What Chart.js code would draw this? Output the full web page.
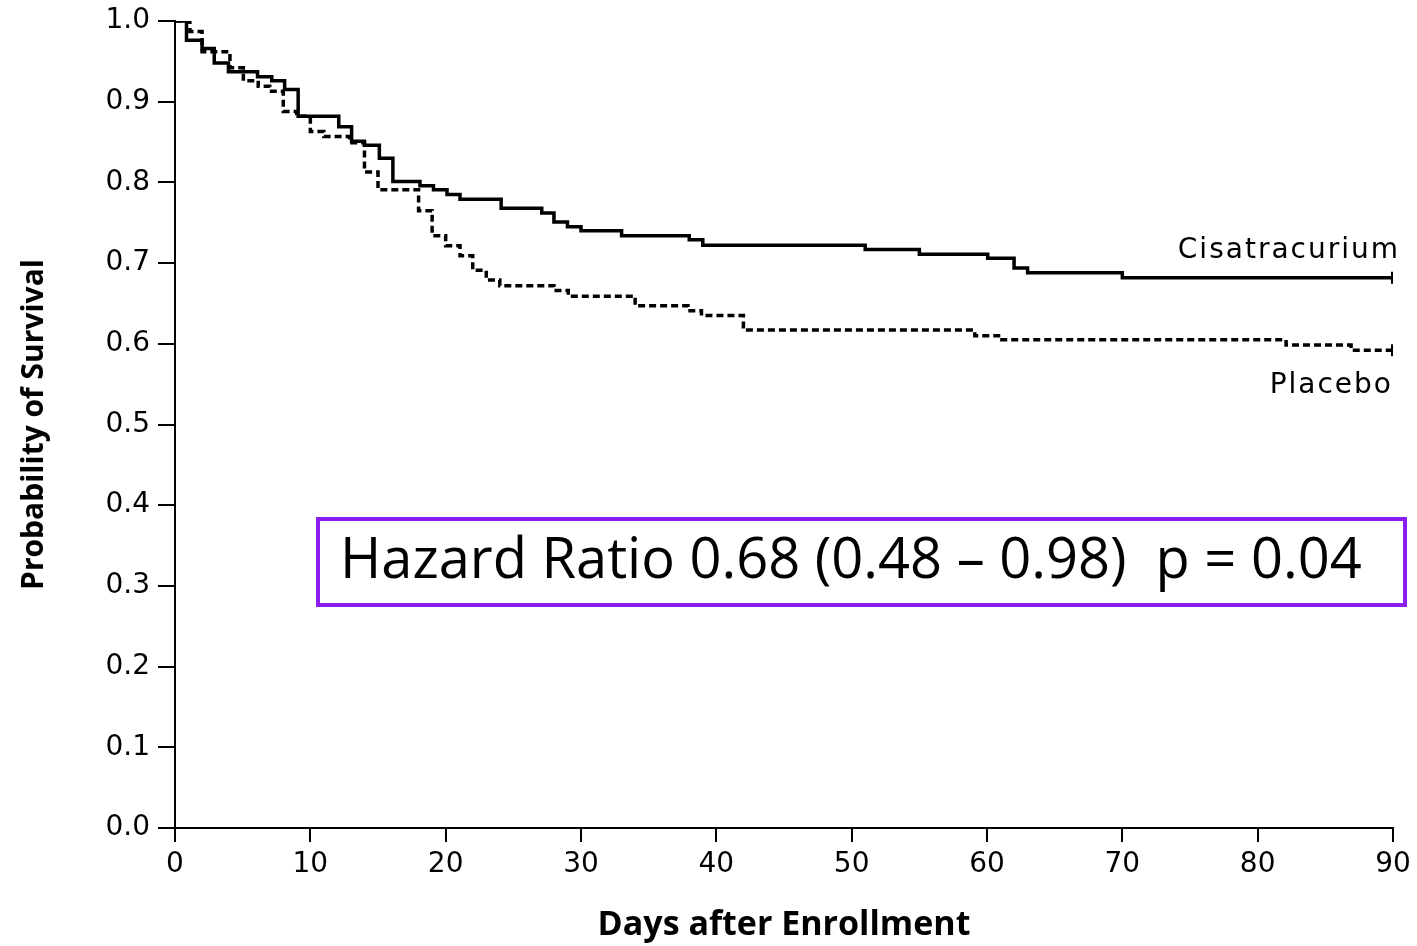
<!DOCTYPE html>
<html>
<head>
<meta charset="utf-8">
<script src="https://cdn.jsdelivr.net/npm/chart.js@4.4.1/dist/chart.umd.min.js"></script>
<style>
  html, body { margin: 0; padding: 0; background: #fff; }
  canvas { display: block; }
</style>
</head>
<body>
<canvas id="kmChart" width="1417" height="946"></canvas>
<script>
"use strict";

// Kaplan-Meier steps: day of each drop and survival after it
const cisTimes = [0, 0.85, 2.0, 2.9, 3.95, 6.1, 7.15, 8.1, 9.1, 12.1, 13.05, 14.0, 15.1, 16.1, 18.1, 19.1, 20.1, 21.06,
    24.1, 27.1, 28.0, 29.0, 30.0, 33.0, 38.0, 39.0, 51.0, 55.0, 60.05, 62.0, 63.0, 70.0, 90];
const cisSurv = [1.0, 0.976, 0.966, 0.948, 0.937, 0.931, 0.926, 0.915, 0.882, 0.869, 0.851, 0.846, 0.830, 0.801, 0.796, 0.791, 0.785, 0.779,
    0.768, 0.762, 0.751, 0.745, 0.740, 0.734, 0.729, 0.722, 0.717, 0.711, 0.706, 0.694, 0.688, 0.682, 0.682];

const placeboTimes = [0, 1.1, 2.0, 4.06, 5.05, 6.15, 7.0, 8.0, 9.0, 10.0, 11.0, 12.9, 14.0, 15.0, 18.0, 19.0, 20.0, 21.06,
    22.0, 23.0, 24.0, 28.0, 29.06, 34.0, 37.9, 38.9, 42.0, 59.1, 61.1, 82.1, 86.9, 90];
const placeboSurv = [1.0, 0.987, 0.962, 0.942, 0.926, 0.919, 0.913, 0.888, 0.882, 0.863, 0.857, 0.849, 0.813, 0.791, 0.765, 0.734, 0.7215, 0.709,
    0.691, 0.679, 0.672, 0.666, 0.659, 0.647, 0.641, 0.635, 0.617, 0.610, 0.605, 0.5985, 0.592, 0.592];

const seriesNames = ["Cisatracurium", "Placebo"];
const hazardText = "Hazard Ratio 0.68 (0.48 \u2013 0.98)  p = 0.04";

const toPoints = (xs, ys) => xs.map((x, i) => ({ x: x, y: ys[i] }));
// censor tick only on the last point
const lastOnly = (arr, r) => arr.map((_, i) => i === arr.length - 1 ? r : 0);

Chart.defaults.font.family = "'DejaVu Sans', sans-serif";
Chart.defaults.color = "#000";

// curve labels and the hazard ratio box
const annotations = {
    id: "annotations",
    afterDraw(chart) {
        const ctx = chart.ctx;
        ctx.save();
        ctx.fillStyle = "#000";
        ctx.font = "28px 'DejaVu Sans'";
        ctx.letterSpacing = "2px";
        ctx.textAlign = "right";
        ctx.textBaseline = "middle";
        ctx.fillText(seriesNames[0], 1400, 251);
        ctx.fillText(seriesNames[1], 1393, 386);

        ctx.letterSpacing = "0px";
        ctx.strokeStyle = "#8a1ef0";
        ctx.lineWidth = 4;
        ctx.strokeRect(318, 519, 1087, 86);

        // fit the big text to the width it takes in the figure
        let size = 60;
        ctx.font = size + "px 'Open Sans'";
        while (ctx.measureText(hazardText).width > 1030 && size > 20) {
            size -= 1;
            ctx.font = size + "px 'Open Sans'";
        }
        ctx.textAlign = "left";
        ctx.textBaseline = "alphabetic";
        ctx.fillText(hazardText, 340, 578);
        ctx.restore();
    }
};

new Chart(document.getElementById("kmChart"), {
    type: "line",
    data: {
        datasets: [{
            label: seriesNames[0],
            data: toPoints(cisTimes, cisSurv),
            stepped: "before",
            borderColor: "#000",
            borderWidth: 3.5,
            pointStyle: "line",
            rotation: 90,
            pointRadius: lastOnly(cisTimes, 6),
            pointBorderWidth: 4,
            pointBorderColor: "#000"
        }, {
            label: seriesNames[1],
            data: toPoints(placeboTimes, placeboSurv),
            stepped: "before",
            borderColor: "#000",
            borderWidth: 3.5,
            borderDash: [7, 4],
            pointStyle: "line",
            rotation: 90,
            pointRadius: lastOnly(placeboTimes, 6),
            pointBorderWidth: 4,
            pointBorderColor: "#000"
        }]
    },
    options: {
        responsive: false,
        animation: false,
        layout: { padding: { top: 21, right: 24, bottom: 0, left: 0 } },
        plugins: {
            legend: { display: false },
            tooltip: { enabled: false }
        },
        scales: {
            x: {
                type: "linear",
                min: 0,
                max: 90,
                ticks: { stepSize: 10, font: { size: 28 }, padding: 6, color: "#000" },
                grid: { drawOnChartArea: false, drawTicks: true, tickLength: 14, color: "#000", lineWidth: 2 },
                border: { color: "#000", width: 2 },
                title: {
                    display: true,
                    text: "Days after Enrollment",
                    font: { family: "'Open Sans'", size: 34, weight: "bold" },
                    padding: { top: 0, bottom: 0 },
                    color: "#000"
                },
                afterFit: (scale) => { scale.height = 118; }
            },
            y: {
                min: 0,
                max: 1,
                ticks: { stepSize: 0.1, font: { size: 28 }, padding: 8, color: "#000",
                    callback: (v) => v.toFixed(1) },
                grid: { drawOnChartArea: false, drawTicks: true, tickLength: 17, color: "#000", lineWidth: 2 },
                border: { color: "#000", width: 2 },
                title: {
                    display: true,
                    text: "Probability of Survival",
                    font: { family: "'Open Sans'", size: 30, weight: "bold" },
                    padding: { top: 16, bottom: 0 },
                    color: "#000"
                },
                afterFit: (scale) => {
                    scale.width = 175;
                    scale.paddingTop = 0;
                    scale.paddingBottom = 0;
                }
            }
        }
    },
    plugins: [annotations]
});
</script>
</body>
</html>
